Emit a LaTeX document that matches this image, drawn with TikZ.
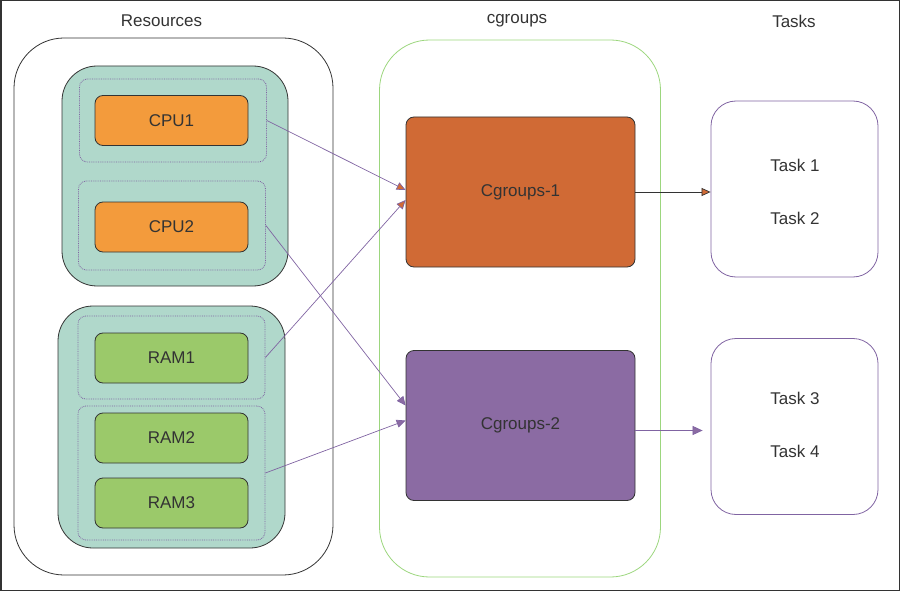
\documentclass[tikz,border=0pt]{standalone}
\usepackage{fontspec}
\setmainfont{Liberation Sans}
\usetikzlibrary{arrows.meta}
\definecolor{tealfill}{HTML}{B0D8CB}
\definecolor{cpuorange}{HTML}{F39B3C}
\definecolor{ramgreen}{HTML}{9BC96A}
\definecolor{cgorange}{HTML}{D06A35}
\definecolor{cgpurple}{HTML}{8B6BA3}
\definecolor{linkpurple}{HTML}{8064A2}
\definecolor{framegray}{HTML}{333333}
\definecolor{cgborder}{HTML}{9CD67E}

\begin{document}
\begin{tikzpicture}[x=1pt, y=-1pt, line width=0.8pt, font=\fontsize{17}{19}\selectfont, text=framegray]
    \tikzstyle{every node}=[inner sep=0pt]
    \tikzstyle{bigbox}=[draw=framegray, rounded corners=50pt]
    \tikzstyle{group}=[draw=framegray, fill=tealfill, rounded corners=35pt]
    \tikzstyle{slot}=[draw=linkpurple, densely dotted, rounded corners=8pt, minimum width=187pt]
    \tikzstyle{unit}=[draw=framegray, rounded corners=8pt, minimum width=153pt, minimum height=50pt]
    \tikzstyle{cgroup}=[draw=framegray, rounded corners=8pt, minimum width=229pt, minimum height=150pt]
    \tikzstyle{taskbox}=[draw=linkpurple, rounded corners=25pt, minimum width=167pt, minimum height=176pt]
    \tikzstyle{link}=[draw=linkpurple, line width=0.7pt]
    \useasboundingbox (0,0) rectangle (900,591);
    \draw [framegray, line width=1.5pt] (0.75,0.75) rectangle (899.25,590.25);
    % titles
    \node (restitle) at (161.5,21) {Resources};
    \node (cgtitle) at (517,21) {cgroups};
    \node (tasktitle) at (794,21) {Tasks};
    % resources side
    \node [bigbox, minimum width=319pt, minimum height=537pt] (res) at (173.5,306.5) {};
    \node [group, minimum width=226pt, minimum height=220pt] (cpugroup) at (175,176) {};
    \node [group, minimum width=227pt, minimum height=242pt] (ramgroup) at (171.5,427) {};
    \node [slot, minimum height=83pt] (slot1) at (173,120.5) {};
    \node [slot, minimum height=89pt] (slot2) at (172,225.5) {};
    \node [slot, minimum height=83pt] (slot3) at (171.5,357.5) {};
    \node [slot, minimum height=134pt] (slot4) at (171.5,473) {};
    \node [unit, fill=cpuorange] (cpu1) at (171.5,120.5) {CPU1};
    \node [unit, fill=cpuorange] (cpu2) at (171.5,227) {CPU2};
    \node [unit, fill=ramgreen] (ram1) at (171.5,358) {RAM1};
    \node [unit, fill=ramgreen] (ram2) at (171.5,438) {RAM2};
    \node [unit, fill=ramgreen] (ram3) at (171.5,503) {RAM3};
    % cgroups side
    \node [bigbox, draw=cgborder, minimum width=281pt, minimum height=537pt] (cgbox) at (520,308.5) {};
    \node [cgroup, fill=cgorange] (cg1) at (520.5,192) {Cgroups-1};
    \node [cgroup, fill=cgpurple] (cg2) at (520.5,425.5) {Cgroups-2};
    % tasks side
    \node [taskbox] (tasks1) at (794.5,189) {};
    \node [taskbox] (tasks2) at (794.5,426.5) {};
    \node (task1) at (795,165) {Task 1};
    \node (task2) at (795,218) {Task 2};
    \node (task3) at (795,398) {Task 3};
    \node (task4) at (795,451) {Task 4};
    % links
    \draw [link, -{Triangle[length=9pt, width=8pt, fill=cgorange]}] (slot1.east) -- ([yshift=2pt]cg1.west);
    \draw [link, -{Triangle[length=9pt, width=8pt, fill=cgorange]}] (slot3.east) -- ([yshift=-8pt]cg1.west);
    \draw [link, -{Triangle[length=9pt, width=8pt, fill=cgpurple]}] (slot2.east) -- ([yshift=20pt]cg2.west);
    \draw [link, -{Triangle[length=9pt, width=8pt, fill=cgpurple]}] (slot4.east) -- ([yshift=5pt]cg2.west);
    \draw [draw=framegray, line width=0.7pt, -{Triangle[length=9pt, width=8pt, fill=cgorange]}] (cg1.east) -- ([yshift=-3pt]tasks1.west);
    \draw [link, shorten >=8pt, -{Triangle[length=10pt, width=9pt, fill=cgpurple]}] ([yshift=-5pt]cg2.east) -- ([yshift=-4pt]tasks2.west);
\end{tikzpicture}
\end{document}
